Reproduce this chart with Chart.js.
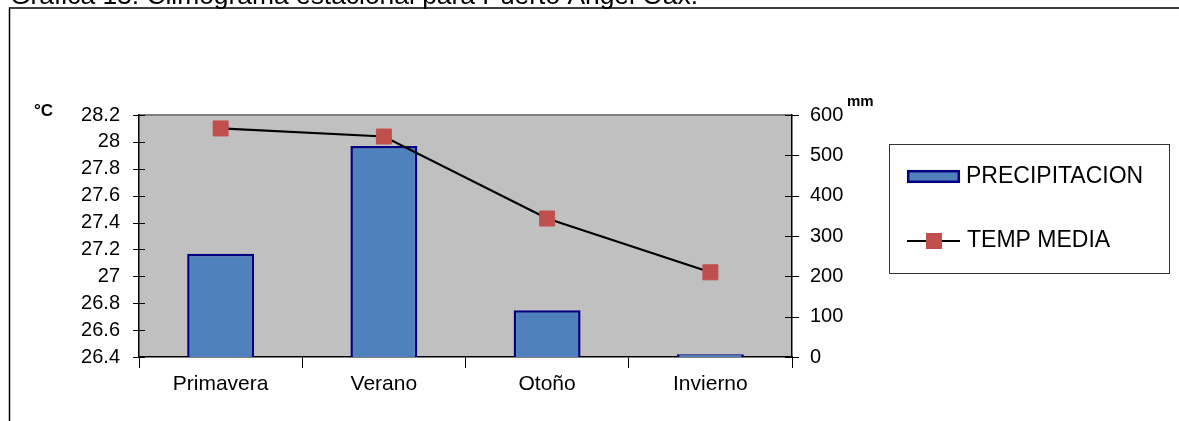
<!DOCTYPE html>
<html>
<head>
<meta charset="utf-8">
<script src="https://cdn.jsdelivr.net/npm/chart.js@4.4.1/dist/chart.umd.min.js"></script>
<style>
  html, body { margin: 0; padding: 0; background: #fff; overflow: hidden; }
  canvas { display: block; }
</style>
</head>
<body>
<canvas id="c" width="1179" height="421"></canvas>
<script>
// Seasonal climate data for Puerto Ángel, Oaxaca
const titleText = 'Gráfica 13. Climograma estacional para Puerto Ángel Oax.';
const seasons = ['Primavera', 'Verano', 'Otoño', 'Invierno'];
const precipitation = [256, 523, 116, 7];       // mm
const meanTemp = [28.1, 28.04, 27.43, 27.03];   // °C
const tempTicks = [26.4, 26.6, 26.8, 27, 27.2, 27.4, 27.6, 27.8, 28, 28.2];
const rainTicks = [0, 100, 200, 300, 400, 500, 600];
const seriesNames = ['PRECIPITACION', 'TEMP MEDIA'];

const FONT = '"Liberation Sans", Arial, sans-serif';
const BAR_FILL = '#4F81BD';
const BAR_EDGE = '#000080';
const MARK = '#C0504D';

// Grey plot area, frame, title, unit labels and boxed legend
const decorations = {
  id: 'decorations',
  beforeDraw(chart) {
    const { ctx, chartArea: a } = chart;
    ctx.save();
    ctx.fillStyle = '#fff';
    ctx.fillRect(0, 0, chart.width, chart.height);
    ctx.fillStyle = '#C0C0C0';
    ctx.fillRect(a.left, a.top, a.right - a.left, a.bottom - a.top);
    ctx.strokeStyle = '#808080';
    ctx.lineWidth = 2;
    ctx.beginPath();
    ctx.moveTo(a.left, a.top);
    ctx.lineTo(a.right, a.top);
    ctx.stroke();

    // outer frame
    ctx.strokeStyle = '#000';
    ctx.lineWidth = 1.5;
    ctx.beginPath();
    ctx.moveTo(9.5, chart.height + 2);
    ctx.lineTo(9.5, 8);
    ctx.lineTo(chart.width + 2, 8);
    ctx.stroke();

    // title (partly above the page edge)
    ctx.fillStyle = '#000';
    ctx.font = '26.4px ' + FONT;
    ctx.textBaseline = 'alphabetic';
    ctx.textAlign = 'left';
    ctx.fillText(titleText, 10, 4);
    ctx.restore();
  },
  beforeDatasetsDraw(chart) {
    // cross-shaped tick marks on both value axes
    const { ctx, chartArea: a, scales } = chart;
    ctx.save();
    ctx.strokeStyle = '#000';
    ctx.lineWidth = 1;
    ctx.beginPath();
    scales.y.ticks.forEach(t => {
      const py = Math.round(scales.y.getPixelForValue(t.value)) + 0.5;
      ctx.moveTo(a.left - 6, py);
      ctx.lineTo(a.left + 6, py);
    });
    scales.y1.ticks.forEach(t => {
      const py = Math.round(scales.y1.getPixelForValue(t.value)) + 0.5;
      ctx.moveTo(a.right - 7, py);
      ctx.lineTo(a.right + 7, py);
    });
    ctx.stroke();
    ctx.restore();
  },
  afterDraw(chart) {
    const { ctx, chartArea: a } = chart;
    ctx.save();
    // unit labels
    ctx.fillStyle = '#000';
    ctx.textAlign = 'left';
    ctx.textBaseline = 'alphabetic';
    ctx.font = 'bold 17px ' + FONT;
    ctx.fillText('°C', 34, 116);
    ctx.font = 'bold 15px ' + FONT;
    ctx.fillText('mm', a.right + 55, 106);

    // legend box
    ctx.strokeStyle = '#333';
    ctx.lineWidth = 1;
    ctx.strokeRect(889.5, 144.5, 280, 129);

    const bar = chart.data.datasets[0];
    const line = chart.data.datasets[1];
    // bar swatch
    ctx.fillStyle = bar.backgroundColor;
    ctx.fillRect(907, 170, 53, 13);
    ctx.strokeStyle = bar.borderColor;
    ctx.lineWidth = 2.5;
    ctx.strokeRect(908.2, 171.2, 50.6, 10.6);
    // line + marker swatch
    ctx.strokeStyle = line.borderColor;
    ctx.lineWidth = 2;
    ctx.beginPath();
    ctx.moveTo(907, 241);
    ctx.lineTo(960, 241);
    ctx.stroke();
    ctx.fillStyle = line.pointBackgroundColor;
    ctx.fillRect(926, 233, 16, 16);

    ctx.fillStyle = '#000';
    ctx.font = '23px ' + FONT;
    ctx.textBaseline = 'middle';
    ctx.fillText(bar.label, 966, 177);
    ctx.fillText(line.label, 967, 241);
    ctx.restore();
  }
};

new Chart(document.getElementById('c'), {
  data: {
    labels: seasons,
    datasets: [
      {
        type: 'bar',
        label: seriesNames[0],
        data: precipitation,
        yAxisID: 'y1',
        backgroundColor: BAR_FILL,
        borderColor: BAR_EDGE,
        borderWidth: 2.5,
        barPercentage: 0.41,
        categoryPercentage: 1,
        order: 1
      },
      {
        type: 'line',
        label: seriesNames[1],
        data: meanTemp,
        yAxisID: 'y',
        borderColor: '#000',
        borderWidth: 2.2,
        pointStyle: 'rect',
        pointRadius: 10.6,
        pointBackgroundColor: MARK,
        pointBorderColor: MARK,
        pointBorderWidth: 1,
        tension: 0,
        order: 0
      }
    ]
  },
  options: {
    responsive: false,
    animation: false,
    devicePixelRatio: 1,
    layout: { padding: { top: 115, left: 0, right: 0, bottom: 0 } },
    plugins: { legend: { display: false }, tooltip: { enabled: false }, title: { display: false } },
    scales: {
      x: {
        type: 'category',
        offset: true,
        grid: { display: true, drawOnChartArea: false, drawTicks: true, tickLength: 11, color: '#000', offset: true },
        border: { display: true, color: '#000', width: 1.5 },
        ticks: { color: '#000', font: { family: FONT, size: 21 }, padding: 4, maxRotation: 0 },
        afterFit(s) { s.height = 64; }
      },
      y: {
        type: 'linear',
        position: 'left',
        min: 26.4,
        max: 28.2,
        afterBuildTicks(s) { s.ticks = tempTicks.map(v => ({ value: v })); },
        grid: { display: false },
        border: { display: true, color: '#000', width: 1.5 },
        ticks: {
          color: '#000',
          font: { family: FONT, size: 20 },
          padding: 11,
          autoSkip: false,
          callback: v => String(+Number(v).toFixed(1))
        },
        afterFit(s) { s.width = 139; }
      },
      y1: {
        type: 'linear',
        position: 'right',
        min: 0,
        max: 600,
        afterBuildTicks(s) { s.ticks = rainTicks.map(v => ({ value: v })); },
        grid: { display: false },
        border: { display: true, color: '#000', width: 1.5 },
        ticks: { color: '#000', font: { family: FONT, size: 20 }, padding: 10, autoSkip: false },
        afterFit(s) { s.width = 387; }
      }
    }
  },
  plugins: [decorations]
});
</script>
</body>
</html>
